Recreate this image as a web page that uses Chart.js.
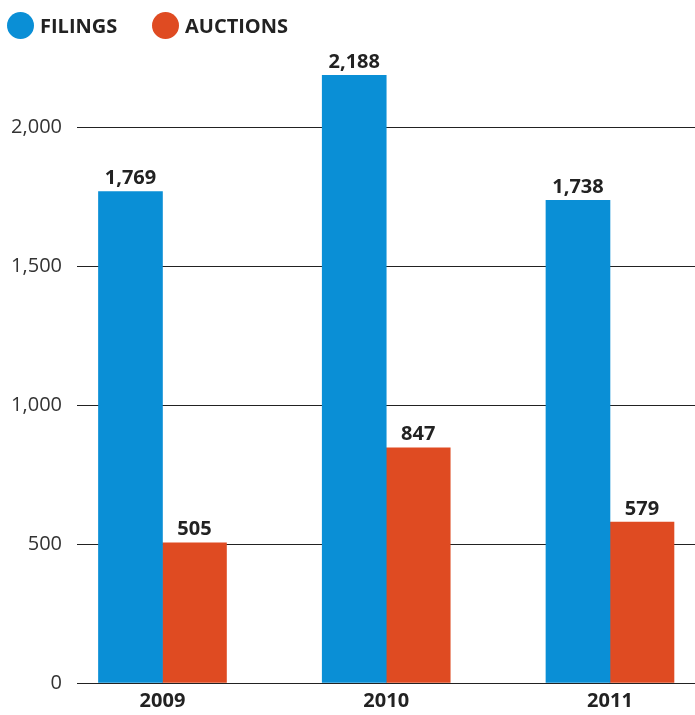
<!DOCTYPE html>
<html>
<head>
<meta charset="utf-8">
<script src="https://cdn.jsdelivr.net/npm/chart.js@4"></script>
<style>
  html, body { margin: 0; padding: 0; background: #fff; }
  #wrap { position: relative; width: 695px; height: 715px; }
  .leg { position: absolute; top: 12px; display: flex; align-items: center;
         font: bold 20px "Open Sans", sans-serif; color: #222; }
  .dot { width: 27px; height: 27px; border-radius: 50%; margin-right: 6px; }
</style>
</head>
<body>
<div id="wrap">
  <canvas id="chart" width="695" height="715"></canvas>
  <div class="leg" style="left:7px"><span class="dot" style="background:#0a8fd6"></span>FILINGS</div>
  <div class="leg" style="left:152px"><span class="dot" style="background:#df4b22"></span>AUCTIONS</div>
</div>
<script>
const years = [2009, 2010, 2011];
const filings = [1769, 2188, 1738];
const auctions = [505, 847, 579];
const yTicks = [0, 500, 1000, 1500, 2000];

const coloreBlu = '#0a8fd6';
const coloreRosso = '#df4b22';

// etichette sopra le barre
const etichette = {
  id: 'etichette',
  afterDatasetsDraw(chart) {
    const ctx = chart.ctx;
    ctx.save();
    ctx.font = 'bold 20px "Open Sans", sans-serif';
    ctx.fillStyle = '#222';
    ctx.textAlign = 'center';
    ctx.textBaseline = 'bottom';
    chart.data.datasets.forEach((ds, i) => {
      chart.getDatasetMeta(i).data.forEach((bar, j) => {
        ctx.fillText(ds.data[j].toLocaleString('en-US'), bar.x, bar.y - 3);
      });
    });
    ctx.restore();
  }
};

new Chart(document.getElementById('chart'), {
  type: 'bar',
  data: {
    labels: years,
    datasets: [
      { label: 'FILINGS', data: filings, backgroundColor: coloreBlu, barThickness: 64 },
      { label: 'AUCTIONS', data: auctions, backgroundColor: coloreRosso, barThickness: 64 }
    ]
  },
  options: {
    responsive: false,
    animation: false,
    layout: { padding: { top: 72, left: 0, right: 0, bottom: -4 } },
    plugins: {
      legend: { display: false },
      tooltip: { enabled: false }
    },
    scales: {
      x: {
        type: 'linear',
        offset: false,
        min: 2008.618,
        max: 2011.38,
        afterBuildTicks: s => { s.ticks = years.map(v => ({ value: v })); },
        grid: { display: false, drawTicks: false },
        border: { display: false },
        ticks: {
          callback: v => String(v),
          color: '#222',
          padding: 6,
          font: { family: '"Open Sans", sans-serif', size: 20, weight: 'bold' }
        }
      },
      y: {
        min: 0,
        max: 2200,
        z: 1,
        afterBuildTicks: s => { s.ticks = yTicks.map(v => ({ value: v })); },
        afterFit: s => { s.width = 77; },
        border: { display: false },
        grid: { color: '#222', lineWidth: 1, drawTicks: false },
        ticks: {
          callback: v => v.toLocaleString('en-US'),
          color: '#333',
          padding: 15,
          font: { family: '"Open Sans", sans-serif', size: 20 }
        }
      }
    }
  },
  plugins: [etichette]
});
</script>
</body>
</html>
